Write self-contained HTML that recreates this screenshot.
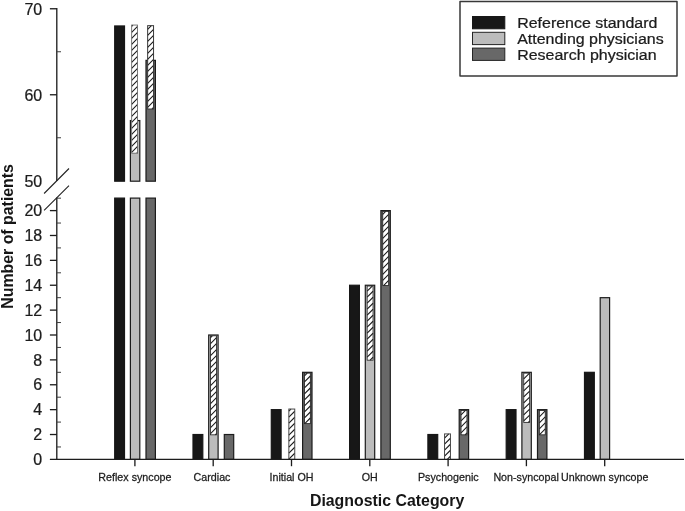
<!DOCTYPE html>
<html lang="en"><head><meta charset="utf-8"><title>Diagnostic Category chart</title>
<style>html,body{margin:0;padding:0;background:#fff}svg{display:block}</style></head>
<body>
<svg width="685" height="511" viewBox="0 0 685 511" font-family="'Liberation Sans', sans-serif">
<rect width="685" height="511" fill="#fff"/>
<rect x="114.70" y="25.96" width="9.80" height="155.24" fill="#171717" stroke="#171717" stroke-width="1.2"/>
<rect x="130.40" y="120.56" width="9.40" height="60.64" fill="#bcbcbc" stroke="#1c1c1c" stroke-width="1.2"/>
<rect x="146.00" y="60.36" width="9.40" height="120.84" fill="#686868" stroke="#1c1c1c" stroke-width="1.2"/>
<rect x="131.65" y="25.06" width="5.90" height="128.14" fill="#fff"/>
<path d="M131.65 26.35L132.94 25.06M131.65 32.35L137.55 26.45M131.65 38.35L137.55 32.45M131.65 44.35L137.55 38.45M131.65 50.35L137.55 44.45M131.65 56.35L137.55 50.45M131.65 62.35L137.55 56.45M131.65 68.35L137.55 62.45M131.65 74.35L137.55 68.45M131.65 80.35L137.55 74.45M131.65 86.35L137.55 80.45M131.65 92.35L137.55 86.45M131.65 98.35L137.55 92.45M131.65 104.35L137.55 98.45M131.65 110.35L137.55 104.45M131.65 116.35L137.55 110.45M131.65 122.35L137.55 116.45M131.65 128.35L137.55 122.45M131.65 134.35L137.55 128.45M131.65 140.35L137.55 134.45M131.65 146.35L137.55 140.45M131.65 152.35L137.55 146.45M136.80 153.20L137.55 152.45" stroke="#1c1c1c" stroke-width="1.08" fill="none"/>
<rect x="131.65" y="25.06" width="5.90" height="128.14" fill="none" stroke="#6a6a6a" stroke-width="0.9"/>
<rect x="147.65" y="25.66" width="5.90" height="83.34" fill="#fff"/>
<path d="M147.65 29.35L151.34 25.66M147.65 35.35L153.55 29.45M147.65 41.35L153.55 35.45M147.65 47.35L153.55 41.45M147.65 53.35L153.55 47.45M147.65 59.35L153.55 53.45M147.65 65.35L153.55 59.45M147.65 71.35L153.55 65.45M147.65 77.35L153.55 71.45M147.65 83.35L153.55 77.45M147.65 89.35L153.55 83.45M147.65 95.35L153.55 89.45M147.65 101.35L153.55 95.45M147.65 107.35L153.55 101.45M152.00 109.00L153.55 107.45" stroke="#1c1c1c" stroke-width="1.08" fill="none"/>
<rect x="147.65" y="25.66" width="5.90" height="83.34" fill="none" stroke="#383838" stroke-width="1.0"/>
<rect x="114.70" y="198.10" width="9.80" height="261.30" fill="#171717" stroke="#171717" stroke-width="1.2"/>
<rect x="130.40" y="198.10" width="9.40" height="261.30" fill="#bcbcbc" stroke="#1c1c1c" stroke-width="1.2"/>
<rect x="146.00" y="198.10" width="9.40" height="261.30" fill="#686868" stroke="#1c1c1c" stroke-width="1.2"/>
<rect x="193.00" y="434.52" width="9.80" height="24.88" fill="#171717" stroke="#171717" stroke-width="1.2"/>
<rect x="208.70" y="335.00" width="9.40" height="124.40" fill="#bcbcbc" stroke="#1c1c1c" stroke-width="1.2"/>
<rect x="210.55" y="335.80" width="5.90" height="99.02" fill="#fff"/>
<path d="M210.55 337.55L212.30 335.80M210.55 343.55L216.45 337.65M210.55 349.55L216.45 343.65M210.55 355.55L216.45 349.65M210.55 361.55L216.45 355.65M210.55 367.55L216.45 361.65M210.55 373.55L216.45 367.65M210.55 379.55L216.45 373.65M210.55 385.55L216.45 379.65M210.55 391.55L216.45 385.65M210.55 397.55L216.45 391.65M210.55 403.55L216.45 397.65M210.55 409.55L216.45 403.65M210.55 415.55L216.45 409.65M210.55 421.55L216.45 415.65M210.55 427.55L216.45 421.65M210.55 433.55L216.45 427.65M215.28 434.82L216.45 433.65" stroke="#1c1c1c" stroke-width="1.08" fill="none"/>
<rect x="210.55" y="335.80" width="5.90" height="99.02" fill="none" stroke="#262626" stroke-width="0.85"/>
<rect x="224.30" y="434.52" width="9.40" height="24.88" fill="#686868" stroke="#1c1c1c" stroke-width="1.2"/>
<rect x="271.30" y="409.64" width="9.80" height="49.76" fill="#171717" stroke="#171717" stroke-width="1.2"/>
<rect x="288.85" y="409.04" width="5.90" height="50.36" fill="#fff"/>
<path d="M288.85 411.15L290.96 409.04M288.85 417.15L294.75 411.25M288.85 423.15L294.75 417.25M288.85 429.15L294.75 423.25M288.85 435.15L294.75 429.25M288.85 441.15L294.75 435.25M288.85 447.15L294.75 441.25M288.85 453.15L294.75 447.25M288.85 459.15L294.75 453.25M294.60 459.40L294.75 459.25" stroke="#1c1c1c" stroke-width="1.08" fill="none"/>
<rect x="288.85" y="409.04" width="5.90" height="50.36" fill="none" stroke="#484848" stroke-width="1.0"/>
<rect x="302.60" y="372.32" width="9.40" height="87.08" fill="#686868" stroke="#1c1c1c" stroke-width="1.2"/>
<rect x="304.45" y="373.12" width="5.90" height="50.50" fill="#fff"/>
<path d="M304.45 375.90L307.23 373.12M304.45 381.90L310.35 376.00M304.45 387.90L310.35 382.00M304.45 393.90L310.35 388.00M304.45 399.90L310.35 394.00M304.45 405.90L310.35 400.00M304.45 411.90L310.35 406.00M304.45 417.90L310.35 412.00M304.73 423.62L310.35 418.00" stroke="#1c1c1c" stroke-width="1.08" fill="none"/>
<rect x="304.45" y="373.12" width="5.90" height="50.50" fill="none" stroke="#262626" stroke-width="0.85"/>
<rect x="349.60" y="285.24" width="9.80" height="174.16" fill="#171717" stroke="#171717" stroke-width="1.2"/>
<rect x="365.30" y="285.24" width="9.40" height="174.16" fill="#bcbcbc" stroke="#1c1c1c" stroke-width="1.2"/>
<rect x="367.15" y="286.04" width="5.90" height="74.14" fill="#fff"/>
<path d="M367.15 291.15L372.26 286.04M367.15 297.15L373.05 291.25M367.15 303.15L373.05 297.25M367.15 309.15L373.05 303.25M367.15 315.15L373.05 309.25M367.15 321.15L373.05 315.25M367.15 327.15L373.05 321.25M367.15 333.15L373.05 327.25M367.15 339.15L373.05 333.25M367.15 345.15L373.05 339.25M367.15 351.15L373.05 345.25M367.15 357.15L373.05 351.25M370.12 360.18L373.05 357.25" stroke="#1c1c1c" stroke-width="1.08" fill="none"/>
<rect x="367.15" y="286.04" width="5.90" height="74.14" fill="none" stroke="#262626" stroke-width="0.85"/>
<rect x="380.90" y="210.60" width="9.40" height="248.80" fill="#686868" stroke="#1c1c1c" stroke-width="1.2"/>
<rect x="382.75" y="211.40" width="5.90" height="74.14" fill="#fff"/>
<path d="M382.75 214.35L385.70 211.40M382.75 220.35L388.65 214.45M382.75 226.35L388.65 220.45M382.75 232.35L388.65 226.45M382.75 238.35L388.65 232.45M382.75 244.35L388.65 238.45M382.75 250.35L388.65 244.45M382.75 256.35L388.65 250.45M382.75 262.35L388.65 256.45M382.75 268.35L388.65 262.45M382.75 274.35L388.65 268.45M382.75 280.35L388.65 274.45M383.56 285.54L388.65 280.45" stroke="#1c1c1c" stroke-width="1.08" fill="none"/>
<rect x="382.75" y="211.40" width="5.90" height="74.14" fill="none" stroke="#262626" stroke-width="0.85"/>
<rect x="427.90" y="434.52" width="9.80" height="24.88" fill="#171717" stroke="#171717" stroke-width="1.2"/>
<rect x="444.55" y="433.92" width="5.90" height="25.48" fill="#fff"/>
<path d="M444.55 438.15L448.78 433.92M444.55 444.15L450.45 438.25M444.55 450.15L450.45 444.25M444.55 456.15L450.45 450.25M447.30 459.40L450.45 456.25" stroke="#1c1c1c" stroke-width="1.08" fill="none"/>
<rect x="444.55" y="433.92" width="5.90" height="25.48" fill="none" stroke="#484848" stroke-width="1.0"/>
<rect x="459.20" y="409.64" width="9.40" height="49.76" fill="#686868" stroke="#1c1c1c" stroke-width="1.2"/>
<rect x="461.05" y="410.44" width="5.90" height="24.38" fill="#fff"/>
<path d="M461.05 414.85L465.46 410.44M461.05 420.85L466.95 414.95M461.05 426.85L466.95 420.95M461.05 432.85L466.95 426.95M465.08 434.82L466.95 432.95" stroke="#1c1c1c" stroke-width="1.08" fill="none"/>
<rect x="461.05" y="410.44" width="5.90" height="24.38" fill="none" stroke="#262626" stroke-width="0.85"/>
<rect x="506.20" y="409.64" width="9.80" height="49.76" fill="#171717" stroke="#171717" stroke-width="1.2"/>
<rect x="521.90" y="372.32" width="9.40" height="87.08" fill="#bcbcbc" stroke="#1c1c1c" stroke-width="1.2"/>
<rect x="523.75" y="373.12" width="5.90" height="49.26" fill="#fff"/>
<path d="M523.75 378.95L529.58 373.12M523.75 384.95L529.65 379.05M523.75 390.95L529.65 385.05M523.75 396.95L529.65 391.05M523.75 402.95L529.65 397.05M523.75 408.95L529.65 403.05M523.75 414.95L529.65 409.05M523.75 420.95L529.65 415.05M528.32 422.38L529.65 421.05" stroke="#1c1c1c" stroke-width="1.08" fill="none"/>
<rect x="523.75" y="373.12" width="5.90" height="49.26" fill="none" stroke="#262626" stroke-width="0.85"/>
<rect x="537.50" y="409.64" width="9.40" height="49.76" fill="#686868" stroke="#1c1c1c" stroke-width="1.2"/>
<rect x="539.35" y="410.44" width="5.90" height="24.38" fill="#fff"/>
<path d="M539.35 410.85L539.76 410.44M539.35 416.85L545.25 410.95M539.35 422.85L545.25 416.95M539.35 428.85L545.25 422.95M539.38 434.82L545.25 428.95" stroke="#1c1c1c" stroke-width="1.08" fill="none"/>
<rect x="539.35" y="410.44" width="5.90" height="24.38" fill="none" stroke="#262626" stroke-width="0.85"/>
<rect x="584.50" y="372.32" width="9.80" height="87.08" fill="#171717" stroke="#171717" stroke-width="1.2"/>
<rect x="600.20" y="297.68" width="9.40" height="161.72" fill="#bcbcbc" stroke="#1c1c1c" stroke-width="1.2"/>
<g stroke="#1c1c1c" stroke-width="1.32" fill="none">
<path d="M56.8 8.11V180.9M56.8 197.6V459.4"/>
<path d="M49.9 459.4H684"/>
<path d="M49.9 8.76H56.8"/>
<path d="M49.9 94.76H56.8"/>
<path d="M49.9 434.52H56.8"/>
<path d="M49.9 409.64H56.8"/>
<path d="M49.9 384.76H56.8"/>
<path d="M49.9 359.88H56.8"/>
<path d="M49.9 335.00H56.8"/>
<path d="M49.9 310.12H56.8"/>
<path d="M49.9 285.24H56.8"/>
<path d="M49.9 260.36H56.8"/>
<path d="M49.9 235.48H56.8"/>
<path d="M49.9 210.60H56.8"/>
<path d="M134.90 459.4V466.2"/>
<path d="M213.20 459.4V466.2"/>
<path d="M291.50 459.4V466.2"/>
<path d="M369.80 459.4V466.2"/>
<path d="M448.10 459.4V466.2"/>
<path d="M526.40 459.4V466.2"/>
<path d="M604.70 459.4V466.2"/>
</g>
<g stroke="#3c3c3c" stroke-width="1.0" fill="none">
<path d="M56.8 51.76H61"/>
<path d="M56.8 137.76H61"/>
<path d="M56.8 446.96H61"/>
<path d="M56.8 422.08H61"/>
<path d="M56.8 397.20H61"/>
<path d="M56.8 372.32H61"/>
<path d="M56.8 347.44H61"/>
<path d="M56.8 322.56H61"/>
<path d="M56.8 297.68H61"/>
<path d="M56.8 272.80H61"/>
<path d="M56.8 247.92H61"/>
<path d="M56.8 223.04H61"/>
<path d="M56.8 198.16H61"/>
</g>
<g stroke="#242424" stroke-width="1.1" fill="none"><path d="M44.1 193.5L69 168.5M44.1 210.3L69 185.6"/></g>
<g fill="#1c1c1c" stroke="#1c1c1c" stroke-width="0.25">
<text transform="translate(42.20 14.74) scale(0.94 1)" font-size="17.0" text-anchor="end">70</text>
<text transform="translate(42.20 100.74) scale(0.94 1)" font-size="17.0" text-anchor="end">60</text>
<text transform="translate(42.20 186.78) scale(0.94 1)" font-size="17.0" text-anchor="end">50</text>
<text transform="translate(42.20 465.08) scale(0.94 1)" font-size="17.0" text-anchor="end">0</text>
<text transform="translate(42.20 440.20) scale(0.94 1)" font-size="17.0" text-anchor="end">2</text>
<text transform="translate(42.20 415.32) scale(0.94 1)" font-size="17.0" text-anchor="end">4</text>
<text transform="translate(42.20 390.44) scale(0.94 1)" font-size="17.0" text-anchor="end">6</text>
<text transform="translate(42.20 365.56) scale(0.94 1)" font-size="17.0" text-anchor="end">8</text>
<text transform="translate(42.20 340.68) scale(0.94 1)" font-size="17.0" text-anchor="end">10</text>
<text transform="translate(42.20 315.80) scale(0.94 1)" font-size="17.0" text-anchor="end">12</text>
<text transform="translate(42.20 290.92) scale(0.94 1)" font-size="17.0" text-anchor="end">14</text>
<text transform="translate(42.20 266.04) scale(0.94 1)" font-size="17.0" text-anchor="end">16</text>
<text transform="translate(42.20 241.16) scale(0.94 1)" font-size="17.0" text-anchor="end">18</text>
<text transform="translate(42.20 216.28) scale(0.94 1)" font-size="17.0" text-anchor="end">20</text>
<text transform="translate(134.90 480.50) scale(1.04 1)" font-size="10.3" text-anchor="middle">Reflex syncope</text>
<text transform="translate(212.00 480.50) scale(1.04 1)" font-size="10.3" text-anchor="middle">Cardiac</text>
<text transform="translate(291.50 480.50) scale(1.04 1)" font-size="10.3" text-anchor="middle">Initial OH</text>
<text transform="translate(369.80 480.50) scale(1.04 1)" font-size="10.3" text-anchor="middle">OH</text>
<text transform="translate(448.30 480.50) scale(1.04 1)" font-size="10.3" text-anchor="middle">Psychogenic</text>
<text transform="translate(526.10 480.50) scale(1.04 1)" font-size="10.3" text-anchor="middle">Non-syncopal</text>
<text transform="translate(604.70 480.50) scale(1.04 1)" font-size="10.3" text-anchor="middle">Unknown syncope</text>
</g>
<g fill="#161616">
<text transform="translate(387.10 506.40) scale(0.981 1)" font-size="16.2" text-anchor="middle" font-weight="bold">Diagnostic Category</text>
<text transform="translate(12.9 236.4) rotate(-90) scale(0.981 1)" font-size="16.2" font-weight="bold" text-anchor="middle">Number of patients</text>
</g>
<rect x="460" y="1.5" width="217" height="74.5" fill="#fff" stroke="#383838" stroke-width="1.5" stroke-linejoin="round"/>
<rect x="472.5" y="16.50" width="32.3" height="12.3" fill="#171717" stroke="#171717" stroke-width="1"/>
<rect x="472.5" y="32.30" width="32.3" height="12.3" fill="#bcbcbc" stroke="#242424" stroke-width="1"/>
<rect x="472.5" y="48.10" width="32.3" height="12.3" fill="#686868" stroke="#242424" stroke-width="1"/>
<g fill="#1c1c1c" stroke="#1c1c1c" stroke-width="0.25">
<text transform="translate(517.20 27.80) scale(1.045 1)" font-size="15.3" text-anchor="start">Reference standard</text>
<text transform="translate(517.20 43.90) scale(1.045 1)" font-size="15.3" text-anchor="start">Attending physicians</text>
<text transform="translate(517.20 59.55) scale(1.045 1)" font-size="15.3" text-anchor="start">Research physician</text>
</g>
</svg>
</body></html>
